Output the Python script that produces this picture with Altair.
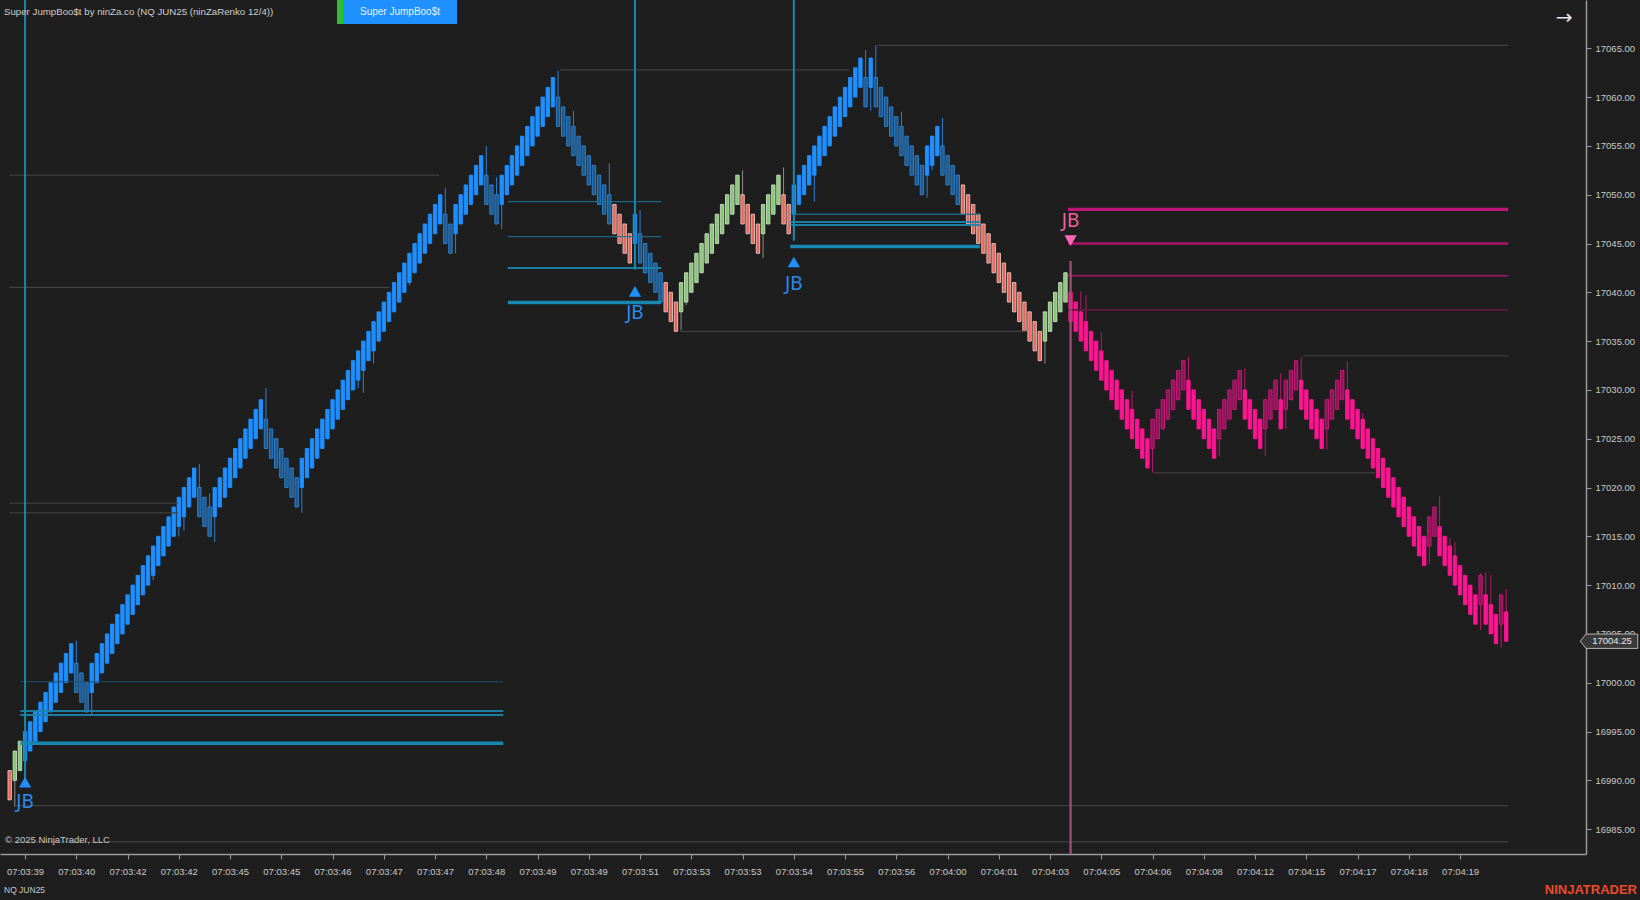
import altair as alt
import pandas as pd

# ---------------- data ----------------
closes = [
    16988, 16993, 16994, 16995, 16996, 16997, 16998, 16999, 17000, 17001,
    17002, 17003, 17004, 16999, 16998, 16997, 17002, 17003, 17004, 17005,
    17006, 17007, 17008, 17009, 17010, 17011, 17012, 17013, 17014, 17015,
    17016, 17017, 17018, 17019, 17020, 17021, 17022, 17017, 17016, 17015,
    17020, 17021, 17022, 17023, 17024, 17025, 17026, 17027, 17028, 17029,
    17024, 17023, 17022, 17021, 17020, 17019, 17018, 17023, 17024, 17025,
    17026, 17027, 17028, 17029, 17030, 17031, 17032, 17033, 17034, 17035,
    17036, 17037, 17038, 17039, 17040, 17041, 17042, 17043, 17044, 17045,
    17046, 17047, 17048, 17049, 17050, 17045, 17044, 17049, 17050, 17051,
    17052, 17053, 17054, 17049, 17048, 17047, 17052, 17053, 17054, 17055,
    17056, 17057, 17058, 17059, 17060, 17061, 17062, 17057, 17056, 17055,
    17054, 17053, 17052, 17051, 17050, 17049, 17048, 17047, 17046, 17045,
    17044, 17043, 17048, 17043, 17042, 17041, 17040, 17039, 17038, 17037,
    17036, 17041, 17042, 17043, 17044, 17045, 17046, 17047, 17048, 17049,
    17050, 17051, 17052, 17047, 17046, 17045, 17044, 17049, 17050, 17051,
    17052, 17047, 17046, 17051, 17052, 17053, 17054, 17055, 17056, 17057,
    17058, 17059, 17060, 17061, 17062, 17063, 17064, 17059, 17064, 17059,
    17058, 17057, 17056, 17055, 17054, 17053, 17052, 17051, 17050, 17055,
    17056, 17057, 17052, 17051, 17050, 17049, 17048, 17047, 17046, 17045,
    17044, 17043, 17042, 17041, 17040, 17039, 17038, 17037, 17036, 17035,
    17034, 17033, 17038, 17039, 17040, 17041, 17042, 17037, 17036, 17035,
    17034, 17033, 17032, 17031, 17030, 17029, 17028, 17027, 17026, 17025,
    17024, 17023, 17022, 17027, 17028, 17029, 17030, 17031, 17032, 17033,
    17028, 17027, 17026, 17025, 17024, 17023, 17028, 17029, 17030, 17031,
    17032, 17027, 17026, 17025, 17024, 17029, 17030, 17031, 17026, 17031,
    17032, 17033, 17028, 17027, 17026, 17025, 17024, 17029, 17030, 17031,
    17032, 17027, 17026, 17025, 17024, 17023, 17022, 17021, 17020, 17019,
    17018, 17017, 17016, 17015, 17014, 17013, 17012, 17017, 17018, 17013,
    17012, 17011, 17010, 17009, 17008, 17007, 17006, 17011, 17006, 17005,
    17004, 17009, 17004.25,
]
first_direction = -1
brick = 3.0

phase_start = [0, 3, 118, 122, 128, 153, 186, 207]
phase_name = ["neutral", "bull", "neutral", "bull", "neutral", "bull", "neutral", "bear"]

wick_high = {13: 17004.3, 37: 17022.4, 39: 17019.4, 50: 17030.2, 85: 17050.7, 93: 17055.0,
             95: 17051.8, 107: 17062.7, 110: 17058.6, 117: 17053.2, 123: 17048.4, 143: 17052.5,
             151: 17052.8, 167: 17064.8, 169: 17065.3, 174: 17058.5, 182: 17057.9, 207: 17043.2,
             209: 17040.1, 210: 17039.7, 213: 17035.9, 219: 17029.9, 230: 17033.4, 241: 17032.2,
             248: 17031.7, 252: 17033.4, 261: 17032.9, 264: 17027.6, 279: 17019.1, 281: 17014.8,
             282: 17014.4, 287: 17011.2, 288: 17011.3, 289: 17011.0, 292: 17009.6}
wick_low = {1: 16987.3, 16: 16996.7, 28: 17010.5, 33: 17015.0, 34: 17015.6, 40: 17014.4,
            57: 17017.4, 66: 17029.0, 68: 17030.2, 69: 17029.7, 71: 17032.7, 78: 17040.7,
            87: 17044.0, 96: 17046.5, 103: 17056.6, 131: 17036.1, 132: 17038.7, 147: 17043.5,
            153: 17045.3, 157: 17049.3, 168: 17058.6, 179: 17049.7, 180: 17052.5, 202: 17032.7,
            223: 17021.5, 236: 17023.2, 245: 17023.2, 249: 17026.0, 257: 17023.9, 277: 17012.1,
            287: 17005.4, 291: 17003.6}

# horizontal indicator levels: price, from bar, to bar, kind
level_price = [16993.8, 16997.1, 16996.7, 17000.1, 17018.4, 17017.4, 17040.5, 17052.0,
               17062.8, 17065.3, 17036.0, 17033.5, 17021.5, 16987.4, 16983.7,
               17049.3, 17045.7, 17042.5, 17038.95,
               17048.0, 17047.2, 17046.9, 17044.7,
               17048.5, 17045.0, 17041.7, 17038.2]
level_from = [2.1, 2.1, 2.1, 2.1, 0, 0, 0, 0,
              107.4, 169.2, 130.8, 252.4, 223.3, 1.0, 0,
              97.2, 97.2, 97.2, 97.2,
              152.3, 152.3, 152.3, 152.3,
              206.5, 206.5, 206.5, 206.5]
level_to = [96.3, 96.3, 96.3, 96.3, 32.8, 32.8, 74.2, 83.8,
            163.8, 292.4, 198.5, 292.5, 266.4, 292.4, 292.4,
            127.1, 127.1, 127.1, 127.1,
            189.3, 189.3, 189.3, 189.3,
            292.4, 292.4, 292.4, 292.4]
level_kind = ["teal3", "teal2", "teal2", "tealdim", "gray", "gray", "gray", "gray",
              "gray", "gray", "gray", "gray", "gray", "gray", "gray",
              "teal1", "teal1", "teal2", "teal3",
              "teal1", "teal2", "teal2", "teal3",
              "mag3", "mag2", "mag1", "mag0"]

# Super JumpBoo$t signals
signal_bar = [3, 122, 153, 207]
signal_dir = ["up", "up", "up", "down"]
signal_marker_price = [16989.8, 17040.1, 17043.1, 17045.3]
signal_text_price = [16987.8, 17037.9, 17040.9, 17047.3]
signal_line_end = [16990.0, 17042.3, 17045.3, 17043.2]

tick_bars = [3, 13, 23, 33, 43, 53, 63, 73, 83, 93, 103, 113, 123, 133, 143, 153, 163,
             173, 183, 193, 203, 213, 223, 233, 243, 253, 263, 273, 283]
time_labels = ["07:03:39", "07:03:40", "07:03:42", "07:03:42", "07:03:45", "07:03:45",
               "07:03:46", "07:03:47", "07:03:47", "07:03:48", "07:03:49", "07:03:49",
               "07:03:51", "07:03:53", "07:03:53", "07:03:54", "07:03:55", "07:03:56",
               "07:04:00", "07:04:01", "07:04:03", "07:04:05", "07:04:06", "07:04:08",
               "07:04:12", "07:04:15", "07:04:17", "07:04:18", "07:04:19"]
price_ticks = [16985, 16990, 16995, 17000, 17005, 17010, 17015, 17020, 17025, 17030,
               17035, 17040, 17045, 17050, 17055, 17060, 17065]
last_price = 17004.25

# ---------------- styles ----------------
BG = "#1e1e1e"
body_style = {
    ("bull", 1): ("#1e90ff", "#1e90ff"),
    ("bull", -1): ("#21598c", "#2c85d6"),
    ("neutral", 1): ("#86c773", "#c8dcc2"),
    ("neutral", -1): ("#e8675c", "#e6c2bc"),
    ("bear", -1): ("#ff1493", "#ff1493"),
    ("bear", 1): ("#8c1656", "#d0197f"),
}
wick_color = {"bull": "#2b80d0", "neutral": "#8c8c8c", "bear": "#b8186c"}
level_style = {
    "teal3": ("#1688b2", 3.4, 1.0),
    "teal2": ("#1a84ab", 2.0, 0.95),
    "teal1": ("#1b6f8d", 1.3, 0.9),
    "tealdim": ("#1b5269", 1.2, 1.0),
    "gray": ("#414141", 1.2, 1.0),
    "mag3": ("#c0167a", 3.4, 1.0),
    "mag2": ("#a8146c", 2.6, 1.0),
    "mag1": ("#8a1a58", 2.0, 1.0),
    "mag0": ("#5f1a40", 1.6, 1.0),
}

# ---------------- tables ----------------
rows = []
for i, c in enumerate(closes):
    if i == 0:
        d = first_direction
    else:
        d = 1 if c > closes[i - 1] else -1
    o = c - brick * d
    ph = phase_name[0]
    for s, n in zip(phase_start, phase_name):
        if i >= s:
            ph = n
    hi = wick_high.get(i, max(o, c))
    lo = wick_low.get(i, min(o, c))
    fill, stroke = body_style[(ph, d)]
    rows.append(dict(i=i, open=o, close=c, hi=hi, lo=lo, fill=fill, stroke=stroke,
                     wick=wick_color[ph]))
bars = pd.DataFrame(rows)

lv = pd.DataFrame(dict(p=level_price, a=level_from, b=level_to, kind=level_kind))
lv["col"] = [level_style[k][0] for k in lv["kind"]]
lv["w"] = [level_style[k][1] for k in lv["kind"]]
lv["op"] = [level_style[k][2] for k in lv["kind"]]

sig = pd.DataFrame(dict(bar=signal_bar, dir=signal_dir, mp=signal_marker_price,
                        tp=signal_text_price, le=signal_line_end))

# ---------------- scales / axes ----------------
xs = alt.Scale(domain=[-1.8927, 307.57], nice=False, zero=False, padding=0)
ys = alt.Scale(domain=[16982.45, 17069.95], nice=False, zero=False, padding=0)

label_arr = "[" + ",".join("'%s'" % t for t in time_labels) + "]"
x_axis = alt.Axis(values=tick_bars, labelExpr=label_arr + "[round((datum.value-3)/10)]",
                  title=None, grid=False, domainColor="#9a9a9a", domainWidth=1.5,
                  tickColor="#9a9a9a", tickSize=5, labelColor="#c8c8c8", labelFontSize=9.5,
                  labelPadding=7, labelFont="Liberation Sans", labelOverlap=False,
                  labelFlush=False)
y_axis = alt.Axis(values=price_ticks, format=".2f", orient="right", title=None, grid=False,
                  domainColor="#9a9a9a", domainWidth=1.5, tickColor="#9a9a9a", tickSize=5,
                  labelColor="#c8c8c8", labelFontSize=9.5, labelPadding=4,
                  labelFont="Liberation Sans", labelOverlap=False, labelFlush=False)


def X(f, **k):
    return alt.X(f, scale=xs, axis=x_axis, **k)


def Y(f, **k):
    return alt.Y(f, scale=ys, axis=y_axis, **k)


wicks = alt.Chart(bars).mark_rule(strokeWidth=1).encode(
    x=X("i:Q"), y=Y("lo:Q"), y2="hi:Q", color=alt.Color("wick:N", scale=None))

bodies = alt.Chart(bars).mark_bar(size=3.4, strokeWidth=0.9).encode(
    x=X("i:Q"), y=Y("open:Q"), y2="close:Q",
    fill=alt.Fill("fill:N", scale=None),
    stroke=alt.Stroke("stroke:N", scale=None))

levels = alt.Chart(lv).mark_rule().encode(
    x=X("a:Q"), x2="b:Q", y=Y("p:Q"),
    color=alt.Color("col:N", scale=None),
    strokeWidth=alt.StrokeWidth("w:Q", scale=None),
    opacity=alt.Opacity("op:Q", scale=None))

vert_up = alt.Chart(sig).transform_filter("datum.dir == 'up'").mark_rule(
    strokeWidth=2, color="#1a87ae").encode(x=X("bar:Q"), y=Y("le:Q"), y2=alt.value(0))
vert_dn = alt.Chart(sig).transform_filter("datum.dir == 'down'").mark_rule(
    strokeWidth=2.4, color="#a24d78", opacity=0.95).encode(
    x=X("bar:Q"), y=Y("le:Q"), y2=alt.value(854))

tri_up = alt.Chart(sig).transform_filter("datum.dir == 'up'").mark_point(
    shape="triangle-up", filled=True, size=150, color="#1e90ff", opacity=1).encode(
    x=X("bar:Q"), y=Y("mp:Q"))
tri_dn = alt.Chart(sig).transform_filter("datum.dir == 'down'").mark_point(
    shape="triangle-down", filled=True, size=150, color="#ff69b4", opacity=1).encode(
    x=X("bar:Q"), y=Y("mp:Q"))
jb_up = alt.Chart(sig).transform_filter("datum.dir == 'up'").mark_text(
    text="JB", fontSize=19, font="Noto Sans", color="#2a8cf0", baseline="middle").encode(
    x=X("bar:Q"), y=Y("tp:Q"))
jb_dn = alt.Chart(sig).transform_filter("datum.dir == 'down'").mark_text(
    text="JB", fontSize=19, font="Noto Sans", color="#f2609e", baseline="middle").encode(
    x=X("bar:Q"), y=Y("tp:Q"))

# ---------------- decorations ----------------
one = pd.DataFrame({"k": [0]})
header = alt.Chart(one).mark_text(
    text="Super JumpBoo$t by ninZa.co (NQ JUN25 (ninZaRenko 12/4))", align="left",
    baseline="middle", fontSize=9.7, font="Liberation Sans", color="#cfcfcf").encode(
    x=alt.value(4), y=alt.value(12))
green_strip = alt.Chart(one).mark_rect(color="#2fc02f").encode(
    x=alt.value(337), x2=alt.value(343), y=alt.value(0), y2=alt.value(24))
button = alt.Chart(one).mark_rect(color="#1e90ff").encode(
    x=alt.value(343), x2=alt.value(457), y=alt.value(0), y2=alt.value(24))
button_text = alt.Chart(one).mark_text(
    text="Super JumpBoo$t", align="center", baseline="middle", fontSize=10,
    font="Liberation Sans", color="#e6f0ff").encode(x=alt.value(400), y=alt.value(12))
arrow = alt.Chart(one).mark_text(
    text="\u2192", align="center", baseline="middle", fontSize=20, font="DejaVu Sans",
    color="#e6e6e6").encode(x=alt.value(1564), y=alt.value(18))
copyright_t = alt.Chart(one).mark_text(
    text="\u00a9 2025 NinjaTrader, LLC", align="left", baseline="middle", fontSize=9.5,
    font="Liberation Sans", color="#c8c8c8").encode(x=alt.value(5), y=alt.value(840))
instr = alt.Chart(one).mark_text(
    text="NQ JUN25", align="left", baseline="middle", fontSize=8.5,
    font="Liberation Sans", color="#c8c8c8").encode(x=alt.value(4), y=alt.value(890))
brand = alt.Chart(one).mark_text(
    text="NINJATRADER", align="right", baseline="middle", fontSize=13, fontWeight="bold",
    font="Liberation Sans", color="#ec4a2a").encode(x=alt.value(1637), y=alt.value(890))

lp = pd.DataFrame({"p": [last_price], "t": ["%.2f" % last_price]})
price_box = alt.Chart(lp).mark_point(
    shape="M -1 0 L -0.8 -0.25 L 1 -0.25 L 1 0.25 L -0.8 0.25 Z", size=3300,
    filled=True, fill="#3a3a3a", stroke="#b4b4b4", strokeWidth=1, opacity=1).encode(
    x=alt.value(1609), y=Y("p:Q"))
price_text = alt.Chart(lp).mark_text(
    align="center", baseline="middle", fontSize=9.5, font="Liberation Sans",
    color="#e8e8e8").encode(x=alt.value(1612), y=Y("p:Q"), text="t:N")

chart = alt.layer(
    wicks, bodies, levels, vert_up, vert_dn, tri_up, tri_dn, jb_up, jb_dn,
    header, green_strip, button, button_text, arrow, copyright_t, instr, brand,
    price_box, price_text,
).properties(
    width=1586, height=854,
    padding={"left": 0, "top": 0, "right": 54, "bottom": 46},
    autosize=alt.AutoSizeParams(type="none"),
).configure(background=BG).configure_view(stroke=None)

chart.save("out.html", embed_options={
    "renderer": "svg", "actions": False,
    "defaultStyle": "body{margin:0;padding:0;background:#1e1e1e;overflow:hidden}"})
